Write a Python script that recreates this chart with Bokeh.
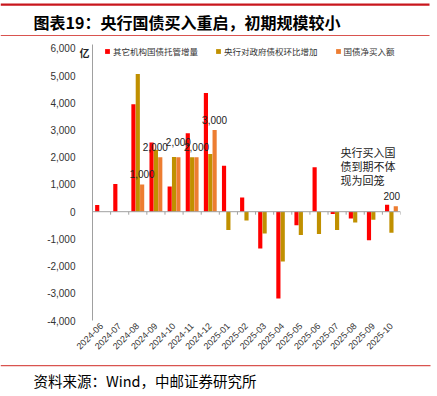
from bokeh.plotting import figure
from bokeh.layouts import column
from bokeh.models import (ColumnDataSource, FactorRange, Range1d, FixedTicker, NumeralTickFormatter,
                          Span, Label, Legend, LegendItem, LinearAxis)
from bokeh.transform import dodge
from bokeh.core.properties import value
from bokeh.embed import file_html
from bokeh.resources import INLINE
import math

# ---------------- data ----------------
months = ["2024-06", "2024-07", "2024-08", "2024-09", "2024-10", "2024-11", "2024-12",
          "2025-01", "2025-02", "2025-03", "2025-04", "2025-05", "2025-06", "2025-07",
          "2025-08", "2025-09", "2025-10"]
other_custody = [250, 1020, 3950, 2540, 930, 2880, 4360, 1690, 525, -1350, -3190,
                 -500, 1630, -80, -250, -1050, 260]
pboc_claims = [None, None, 5060, 2280, 2010, 2000, 2120, -670, -320, -800, -1830,
               -860, -820, -670, -400, -300, -770]
net_purchase = [None, None, 1000, 2000, 2000, 2000, 3000, None, None, None, None,
                None, None, None, None, None, 200]
yticks = [-4000, -3000, -2000, -1000, 0, 1000, 2000, 3000, 4000, 5000, 6000]

series_names = ["其它机构国债托管增量", "央行对政府债权环比增加", "国债净买入额"]
title_text = "图表19：央行国债买入重启，初期规模较小"
note_lines = ["央行买入国", "债到期不体", "现为回笼"]
source_text = "资料来源：Wind，中邮证券研究所"
unit_text = "亿"

RED = "#FF0000"
GOLD = "#C09000"
ORANGE = "#ED7D31"
LINE_RED = "#C8161D"
THIN_RED = "#D9534F"
CJK = "Noto Sans CJK SC"
W = 437

# label nudges (pixels), styling only
label_dx = {"2024-09": -5, "2025-10": -4}
label_dy = {"2024-10": -5}


def nan(v):
    return float("nan") if v is None else v


def blank(fig):
    fig.outline_line_color = None
    fig.xgrid.grid_line_color = None
    fig.ygrid.grid_line_color = None
    fig.background_fill_color = "white"
    fig.border_fill_color = "white"
    fig.min_border = 0
    fig.frame_align = False


# ---------------- header ----------------
head = figure(width=W, height=38, output_backend="svg", toolbar_location=None,
              x_range=Range1d(0, W), y_range=Range1d(38, 0),
              x_axis_type=None, y_axis_type=None)
blank(head)
head.quad(left=[0], right=[429], top=[3], bottom=[5.2], fill_color=LINE_RED, line_color=None)
head.quad(left=[0], right=[429], top=[34.5], bottom=[35.6], fill_color=THIN_RED, line_color=None)
head.text(x=[33], y=[21], text=[title_text], text_font=value(CJK), text_font_size="16px",
          text_font_style="bold", text_baseline="middle", text_color="#000000")

# ---------------- main chart ----------------
src = ColumnDataSource(dict(
    month=months,
    other=[nan(v) for v in other_custody],
    pboc=[nan(v) for v in pboc_claims],
    net=[nan(v) for v in net_purchase],
))
lab_m = [m for m, v in zip(months, net_purchase) if v is not None]
lab_v = [v for v in net_purchase if v is not None]
lab_src = ColumnDataSource(dict(month=lab_m, val=lab_v, txt=[f"{v:,}" for v in lab_v],
                                dx=[label_dx.get(m, 0) for m in lab_m],
                                dy=[-10 + label_dy.get(m, 0) for m in lab_m]))

p = figure(width=W, height=324, output_backend="svg", toolbar_location=None,
           x_range=FactorRange(factors=months, range_padding=0),
           y_range=Range1d(-4000, 6147), y_axis_location=None)
blank(p)
p.min_border_left = 92
p.min_border_right = 37
p.min_border_top = 6
p.min_border_bottom = 42

w = 0.23
r1 = p.vbar(x=dodge("month", -0.24, range=p.x_range), top="other", width=w, source=src,
            fill_color=RED, line_color=None)
r2 = p.vbar(x=dodge("month", 0.0, range=p.x_range), top="pboc", width=w, source=src,
            fill_color=GOLD, line_color=None)
r3 = p.vbar(x=dodge("month", 0.24, range=p.x_range), top="net", width=w, source=src,
            fill_color=ORANGE, line_color=None)

# zero line with boundary ticks
p.add_layout(Span(location=0, dimension="width", line_color="#A0A0A0", line_width=1))
bounds = list(range(1, len(months) + 1))
p.segment(x0=bounds, x1=bounds, y0=[0] * len(bounds), y1=[-110] * len(bounds),
          line_color="#A0A0A0", line_width=1)

# data labels
p.text(x=dodge("month", 0.24, range=p.x_range), y="val", text="txt", source=lab_src,
       x_offset="dx", y_offset="dy", text_align="center", text_baseline="middle",
       text_font=value("Liberation Sans"), text_font_size="10px", text_color="#222222")

# inner y axis: axis line + unit
unit_axis = LinearAxis(ticker=FixedTicker(ticks=[5850]),
                       major_label_overrides={5850: unit_text},
                       axis_line_color="#A0A0A0", major_tick_line_color=None,
                       minor_tick_line_color=None, major_tick_out=0, major_tick_in=0,
                       major_label_standoff=3, major_label_text_font=CJK,
                       major_label_text_font_size="10px", major_label_text_font_style="bold",
                       major_label_text_color="#222222")
p.add_layout(unit_axis, "left")
# outer y axis: numbers
num_axis = LinearAxis(ticker=FixedTicker(ticks=yticks),
                      formatter=NumeralTickFormatter(format="0,0"),
                      axis_line_color=None, major_tick_line_color=None,
                      minor_tick_line_color=None, major_tick_out=0, major_tick_in=0,
                      major_label_standoff=1, major_label_text_font="Liberation Sans",
                      major_label_text_font_size="10px", major_label_text_color="#333333")
p.add_layout(num_axis, "left")

xa = p.xaxis[0]
xa.axis_line_color = None
xa.major_tick_line_color = None
xa.minor_tick_line_color = None
xa.major_tick_out = 0
xa.major_tick_in = 0
xa.major_label_standoff = 4
xa.major_label_orientation = math.pi / 4
xa.major_label_text_font = "Liberation Sans"
xa.major_label_text_font_size = "9px"
xa.major_label_text_color = "#333333"

# legend (location = bottom-left of legend box, frame-relative screen px)
legend = Legend(items=[LegendItem(label=series_names[0], renderers=[r1]),
                       LegendItem(label=series_names[1], renderers=[r2]),
                       LegendItem(label=series_names[2], renderers=[r3])],
                orientation="horizontal", location=(12, 263),
                padding=0, margin=0, spacing=17, glyph_width=6, glyph_height=6,
                label_standoff=3, label_height=9, label_width=10,
                label_text_font=CJK, label_text_font_size="8.5px",
                label_text_color="#333333", label_text_baseline="middle",
                border_line_color=None, background_fill_alpha=0)
p.add_layout(legend, "center")

# note
for i, t in enumerate(note_lines):
    p.add_layout(Label(x=248, y=169 - 14 * i, x_units="screen", y_units="screen", text=t,
                       text_font=CJK, text_font_size="11px", text_baseline="middle",
                       text_color="#222222"))

# ---------------- footer ----------------
foot = figure(width=W, height=34, output_backend="svg", toolbar_location=None,
              x_range=Range1d(0, W), y_range=Range1d(34, 0),
              x_axis_type=None, y_axis_type=None)
blank(foot)
foot.quad(left=[0], right=[430], top=[2.5], bottom=[3.7], fill_color=THIN_RED, line_color=None)
foot.text(x=[33], y=[18], text=[source_text], text_font=value(CJK), text_font_size="14.5px",
          text_baseline="middle", text_color="#000000")

layout = column(head, p, foot, spacing=0)
open("out.html", "w").write(file_html(layout, INLINE))
